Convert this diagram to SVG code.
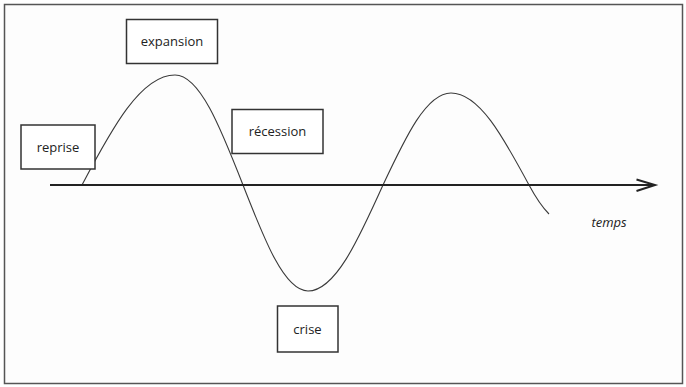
<svg xmlns="http://www.w3.org/2000/svg" width="686" height="387" viewBox="0 0 686 387">
<style>
.box{fill:#ffffff;stroke:#333333;stroke-width:1.5}
.lbl{font-family:"Open Sans","Noto Sans",sans-serif;font-size:13px;fill:#222222;text-anchor:middle}
.curve{fill:none;stroke:#3a3a3a;stroke-width:1.1}
.axis{fill:none;stroke:#222222;stroke-width:2}
</style>
<rect x="0" y="0" width="686" height="387" fill="#ffffff"/>
<rect x="4.5" y="4.5" width="678" height="379" fill="#fdfdfd" stroke="#555555" stroke-width="1.5"/>
<g id="connectors">
<path class="curve" d="M82,185 C112,128 141,75 175,75 C199.6,75 220.3,127 243,185 C264.7,240.6 284.5,291 308,291 C335,291 358,240.6 383,185 C405.7,136.7 426.4,93 451,93 C479.2,93 503,136.7 529,185 C538,201.7 544,209 549,214"/>
<path class="axis" d="M50,185 H654"/>
<path class="axis" d="M636.5,179.5 L655,185 L636.5,191" stroke-width="1.6"/>
</g>
<g id="expansion">
<rect class="box" x="126.5" y="19.5" width="91" height="44"/>
<text class="lbl" x="172" y="46">expansion</text>
</g>
<g id="reprise">
<rect class="box" x="21" y="125" width="74" height="44"/>
<text class="lbl" x="58" y="151.5">reprise</text>
</g>
<g id="recession">
<rect class="box" x="232" y="109.5" width="91" height="44"/>
<text class="lbl" x="277.5" y="136">récession</text>
</g>
<g id="crise">
<rect class="box" x="277.5" y="306" width="60.5" height="46"/>
<text class="lbl" x="307.5" y="333.5">crise</text>
</g>
<g id="temps">
<text class="lbl" x="609" y="227" font-style="italic">temps</text>
</g>
</svg>
